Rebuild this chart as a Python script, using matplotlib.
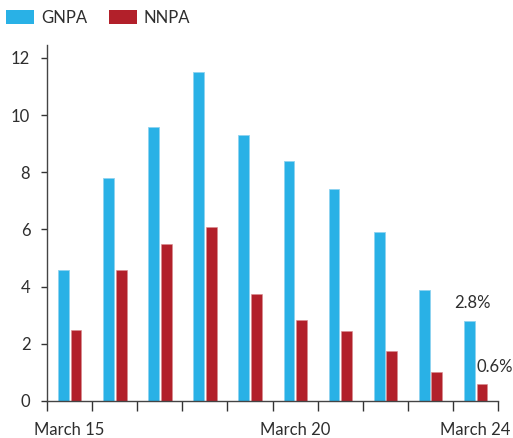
import matplotlib
matplotlib.use('Agg')
from matplotlib import pyplot as plt
from matplotlib.patches import Patch
import numpy as np

plt.rcParams['font.family'] = ['Lato', 'DejaVu Sans']

years = ['March 15', 'March 16', 'March 17', 'March 18', 'March 19',
         'March 20', 'March 21', 'March 22', 'March 23', 'March 24']
gnpa = [4.6, 7.8, 9.6, 11.5, 9.3, 8.4, 7.4, 5.9, 3.9, 2.8]
nnpa = [2.5, 4.6, 5.5, 6.1, 3.75, 2.85, 2.45, 1.75, 1.0, 0.6]
shown_labels = {0: 'March 15', 5: 'March 20', 9: 'March 24'}

blue = '#29b1e6'
red = '#b2202a'
txt = '#2e2e2e'

fig = plt.figure(figsize=(5.13, 4.38), dpi=100)
ax = fig.add_axes([0.0916, 0.0845, 0.8792, 0.8125])

x = np.arange(len(years))
w = 0.24
ax.bar(x - 0.135, gnpa, width=w, color=blue, edgecolor='#8fd3f0', linewidth=0.6)
ax.bar(x + 0.145, nnpa, width=w, color=red, edgecolor='#d88a8e', linewidth=0.4)

ax.text(x[-1] - 0.07, gnpa[-1] + 0.35, '2.8%', ha='center', va='bottom',
        fontsize=12, color=txt)
ax.text(x[-1] + 0.03, nnpa[-1] + 0.3, '0.6%', ha='left', va='bottom',
        fontsize=12, color=txt, clip_on=False)

ax.set_xlim(-0.5, len(years) - 0.5)
ax.set_ylim(0, 12.45)
ax.set_yticks([0, 2, 4, 6, 8, 10, 12])

# ticks at group boundaries, labels at group centres
ax.set_xticks(np.arange(-0.5, len(years), 1.0))
ax.set_xticklabels([])
ax.set_xticks(x, minor=True)
ax.set_xticklabels([shown_labels.get(i, '') for i in x], minor=True)
ax.tick_params(axis='x', which='major', length=7, width=1, color='#333333')
ax.tick_params(axis='x', which='minor', length=0, pad=15, labelsize=12,
               labelcolor=txt)
ax.tick_params(axis='y', length=4, width=1, color='#333333', pad=8,
               labelsize=12, labelcolor=txt)

for s in ['top', 'right']:
    ax.spines[s].set_visible(False)
for s in ['left', 'bottom']:
    ax.spines[s].set_color('#444444')
    ax.spines[s].set_linewidth(1)

handles = [Patch(facecolor=blue, label='GNPA'), Patch(facecolor=red, label='NNPA')]
fig.legend(handles=handles, loc='upper left', bbox_to_anchor=(0.012, 0.977), ncol=2,
           frameon=False, fontsize=12, handlelength=1.7, handleheight=0.9,
           columnspacing=1.3, handletextpad=0.4, borderaxespad=0, borderpad=0,
           labelcolor=txt)

plt.savefig('out.png', dpi=100)
